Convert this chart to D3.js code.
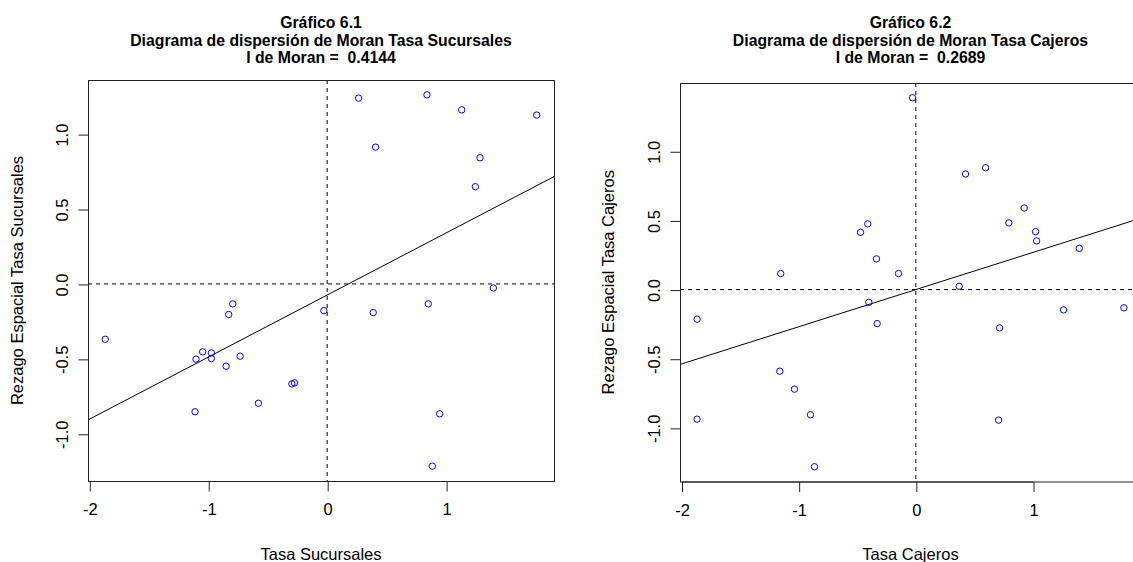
<!DOCTYPE html>
<html>
<head>
<meta charset="utf-8">
<script src="https://cdn.jsdelivr.net/npm/d3@7"></script>
<style>
  html, body { margin: 0; padding: 0; background: #fff; }
  svg { display: block; font-family: "Liberation Sans", Arial, sans-serif; }
  text { white-space: pre; }
</style>
</head>
<body>
<svg id="chart" width="1133" height="562"></svg>
<script>
// ---------- Data ----------
// Panel 1: Tasa Sucursales (x) vs spatial lag (y)
const sucX = [0.264, 0.839, 1.131, 1.762, 0.407, 1.285, 1.246, 1.397, -1.866, -0.794,
              -0.828, -0.028, 0.387, 0.850, -1.047, -0.974, -1.103, -0.974, -0.732, -0.850,
              -0.297, -0.275, -0.578, -1.111, 0.946, 0.884];
const sucY = [1.240, 1.262, 1.162, 1.127, 0.913, 0.842, 0.649, -0.027, -0.369, -0.133,
              -0.204, -0.178, -0.191, -0.133, -0.453, -0.460, -0.502, -0.498, -0.482, -0.549,
              -0.667, -0.660, -0.796, -0.853, -0.867, -1.216];
const sucMoranI = 0.4144;
const sucIntercept = -0.074;

// Panel 2: Tasa Cajeros (x) vs spatial lag (y)
const cajX = [-0.028, 0.424, 0.595, 0.925, 0.794, 1.022, 1.031, 1.395, -0.410, -0.472,
              -0.336, -1.153, -0.148, 0.370, -1.867, -0.401, -0.330, 1.261, 1.776, 0.715,
              -1.161, -1.036, -1.867, -0.899, 0.706, -0.865];
const cajY = [1.387, 0.836, 0.881, 0.590, 0.482, 0.419, 0.352, 0.298, 0.475, 0.414,
              0.222, 0.116, 0.116, 0.024, -0.214, -0.092, -0.246, -0.147, -0.132, -0.277,
              -0.590, -0.720, -0.937, -0.905, -0.944, -1.281];
const cajMoranI = 0.2689;
const cajIntercept = 0.0;

const xTicks = [-2, -1, 0, 1];
const xTickLabels = ["-2", "-1", "0", "1"];
const yTicks = [-1, -0.5, 0, 0.5, 1];
const yTickLabels = ["-1.0", "-0.5", "0.0", "0.5", "1.0"];

const titles1 = ["Gráfico 6.1", "Diagrama de dispersión de Moran Tasa Sucursales", "I de Moran =  0.4144"];
const titles2 = ["Gráfico 6.2", "Diagrama de dispersión de Moran Tasa Cajeros", "I de Moran =  0.2689"];
const xLabel1 = "Tasa Sucursales", yLabel1 = "Rezago Espacial Tasa Sucursales";
const xLabel2 = "Tasa Cajeros", yLabel2 = "Rezago Espacial Tasa Cajeros";

// ---------- Drawing ----------
const svg = d3.select("#chart");

function rExtent(arr) {
  const [a, b] = d3.extent(arr);
  const e = (b - a) * 0.04;
  return [a - e, b + e];
}

function panel(cfg) {
  const g = svg.append("g");
  const x = d3.scaleLinear().domain(rExtent(cfg.xs)).range([cfg.left, cfg.right]);
  const y = d3.scaleLinear().domain(rExtent(cfg.ys)).range([cfg.bottom, cfg.top]);
  const clipId = "clip" + cfg.id;
  svg.append("clipPath").attr("id", clipId).append("rect")
    .attr("x", cfg.left).attr("y", cfg.top)
    .attr("width", cfg.right - cfg.left).attr("height", cfg.bottom - cfg.top);

  const plot = g.append("g").attr("clip-path", `url(#${clipId})`);

  // Regression line
  const [x0, x1] = x.domain();
  plot.append("line")
    .attr("x1", x(x0)).attr("y1", y(cfg.intercept + cfg.slope * x0))
    .attr("x2", x(x1)).attr("y2", y(cfg.intercept + cfg.slope * x1))
    .attr("stroke", "#000").attr("stroke-width", 1);

  // Dashed reference lines
  plot.append("line")
    .attr("x1", x(0)).attr("x2", x(0)).attr("y1", cfg.top).attr("y2", cfg.bottom)
    .attr("stroke", "#000").attr("stroke-width", 1).attr("stroke-dasharray", "4,4");
  plot.append("line")
    .attr("x1", cfg.left).attr("x2", cfg.right).attr("y1", y(0)).attr("y2", y(0))
    .attr("stroke", "#000").attr("stroke-width", 1).attr("stroke-dasharray", "4,4");

  // Points
  plot.selectAll("circle").data(cfg.xs.map((v, i) => [v, cfg.ys[i]]))
    .join("circle")
    .attr("cx", d => x(d[0])).attr("cy", d => y(d[1])).attr("r", 3.2)
    .attr("fill", "none").attr("stroke", "#0000ff").attr("stroke-width", 1);

  // Box
  g.append("rect")
    .attr("x", cfg.left + 0.5).attr("y", cfg.top + 0.5)
    .attr("width", cfg.right - cfg.left).attr("height", cfg.bottom - cfg.top)
    .attr("fill", "none").attr("stroke", "#222").attr("stroke-width", 1);

  // X axis
  const xAxis = d3.axisBottom(x).tickValues(xTicks).tickSize(10).tickPadding(12)
    .tickFormat((d, i) => xTickLabels[i]);
  const ga = g.append("g").attr("transform", `translate(0.5,${cfg.bottom + 0.5})`).call(xAxis);
  ga.select(".domain").attr("d", `M${x(xTicks[0])},0H${x(xTicks[xTicks.length - 1])}`).attr("stroke", "#222");
  ga.selectAll(".tick line").attr("stroke", "#222");
  ga.selectAll("text").attr("font-size", 16.5).attr("fill", "#000")
    .attr("font-family", "Liberation Sans, Arial, sans-serif");

  // Y axis
  const yAxis = d3.axisLeft(y).tickValues(yTicks).tickSize(10).tickPadding(0)
    .tickFormat((d, i) => yTickLabels[i]);
  const gy = g.append("g").attr("transform", `translate(${cfg.left + 0.5},0.5)`).call(yAxis);
  gy.select(".domain").attr("d", `M0,${y(yTicks[0])}V${y(yTicks[yTicks.length - 1])}`).attr("stroke", "#222");
  gy.selectAll(".tick line").attr("stroke", "#222");
  gy.selectAll("text")
    .attr("font-size", 16.5).attr("fill", "#000")
    .attr("font-family", "Liberation Sans, Arial, sans-serif")
    .attr("x", null).attr("dy", null)
    .attr("text-anchor", "middle")
    .attr("transform", `translate(-21,0) rotate(-90)`);

  // Titles
  const cx = (cfg.left + cfg.right) / 2;
  cfg.titles.forEach((t, i) => {
    g.append("text").attr("x", cx).attr("y", cfg.titleY[i])
      .attr("text-anchor", "middle").attr("font-weight", "bold")
      .attr("xml:space", "preserve")
      .attr("font-size", 15.8).attr("fill", "#000").text(t);
  });

  // Axis labels
  g.append("text").attr("x", cx).attr("y", 560).attr("text-anchor", "middle")
    .attr("font-size", 16.5).attr("fill", "#000").text(cfg.xLabel);
  g.append("text")
    .attr("transform", `translate(${cfg.yLabelX},${(cfg.top + cfg.bottom) / 2}) rotate(-90)`)
    .attr("text-anchor", "middle").attr("font-size", 16.5).attr("fill", "#000").text(cfg.yLabel);
}

panel({
  id: 1, xs: sucX, ys: sucY, slope: sucMoranI, intercept: sucIntercept,
  left: 88, right: 554, top: 80, bottom: 481,
  titles: titles1, titleY: [28, 46, 63], xLabel: xLabel1, yLabel: yLabel1, yLabelX: 23
});
panel({
  id: 2, xs: cajX, ys: cajY, slope: cajMoranI, intercept: cajIntercept,
  left: 680, right: 1141, top: 83, bottom: 481.5,
  titles: titles2, titleY: [28, 46, 63], xLabel: xLabel2, yLabel: yLabel2, yLabelX: 614
});
</script>
</body>
</html>
